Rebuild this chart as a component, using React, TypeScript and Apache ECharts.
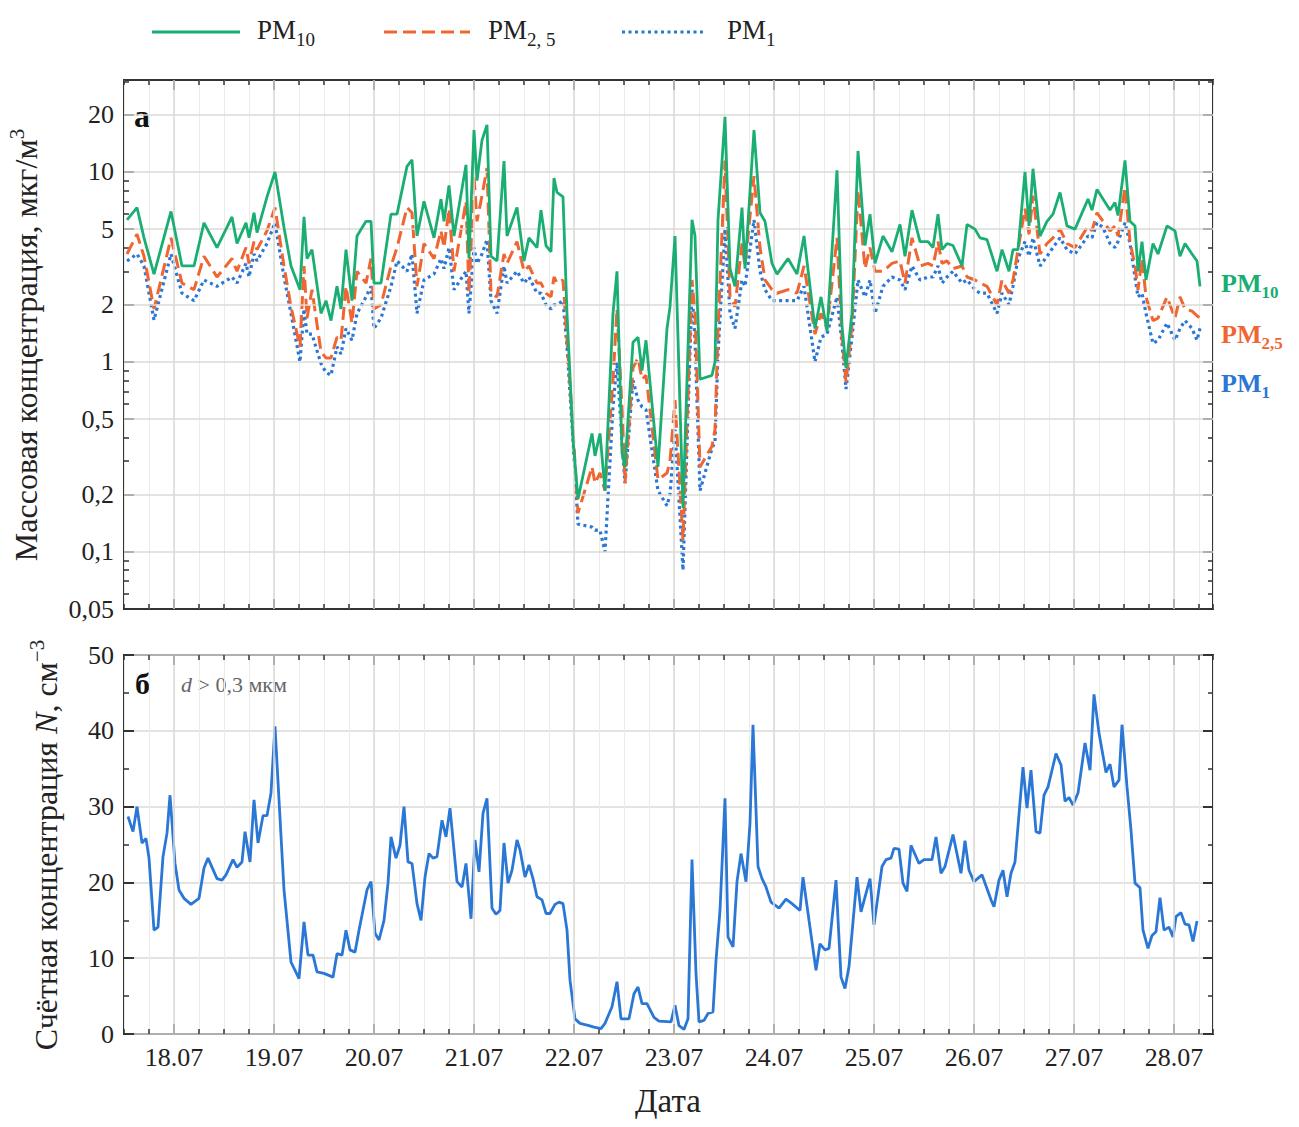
import React, { useEffect, useRef } from "react";
import * as echarts from "echarts";

const pmTimes = [
  17.53,17.63,17.70,17.80,17.97,18.08,18.20,18.30,18.43,18.58,18.63,18.72,18.75,18.80,18.83,18.93,19.01,19.10,19.17,19.26,
  19.30,19.33,19.38,19.47,19.52,19.57,19.63,19.67,19.72,19.78,19.83,19.92,19.97,20.00,20.07,20.17,20.23,20.33,20.38,20.43,
  20.50,20.60,20.67,20.70,20.75,20.80,20.92,20.95,21.00,21.03,21.08,21.13,21.17,21.23,21.30,21.33,21.43,21.50,21.55,21.63,
  21.67,21.72,21.77,21.80,21.83,21.89,
  21.93,21.99,22.04,22.18,22.21,22.26,22.31,22.39,22.43,22.48,22.51,22.59,22.64,22.68,22.72,22.84,22.93,22.96,23.01,23.09,
  23.18,23.21,23.26,23.38,23.41,23.44,23.51,23.56,23.61,23.68,23.71,23.80,23.86,23.91,23.98,24.03,24.14,24.23,24.30,24.41,
  24.47,24.53,24.63,24.68,24.72,24.78,24.84,24.91,
  24.96,25.01,25.09,25.18,25.26,25.31,25.38,25.46,25.54,25.59,25.64,25.68,25.73,25.79,25.88,25.93,26.01,26.06,26.13,26.23,
  26.28,26.35,26.39,26.44,26.51,26.55,26.59,26.66,26.73,26.79,26.86,26.93,27.01,27.14,27.18,27.23,27.29,27.36,27.41,27.44,
  27.51,27.56,27.61,27.64,27.68,27.72,27.79,27.84,27.93,28.01,28.06,28.11,28.18,28.23,28.26,
];

const pm10 = [
  5.6,6.5,4.5,2.9,6.2,3.2,3.2,5.4,4.0,5.8,4.2,5.4,4.5,6.1,4.8,7.4,10,5.1,3.2,2.4,
  5.8,3.5,3.9,1.8,2.1,1.65,2.5,1.9,3.9,2.1,4.6,5.5,5.5,2.6,2.6,6.0,6.0,10.7,11.6,4.6,
  7.0,4.5,7.2,5.5,8.5,4.6,10.9,3.5,16.6,9,14.7,17.7,3.6,3.4,11.4,4.6,6.5,3.4,4.5,4.0,
  6.3,4.1,3.8,9.3,7.8,7.4,
  1.8,0.39,0.19,0.42,0.32,0.42,0.21,1.8,3.0,0.33,0.28,1.27,1.35,0.9,1.3,0.28,1.5,1.95,4.6,0.17,
  5.6,4.6,0.81,0.85,1.0,5.6,19.5,3.1,2.5,6.5,3.1,16.6,6.1,5.5,3.3,2.9,3.5,2.9,4.6,1.5,
  2.2,1.45,10.2,1.55,0.93,1.8,12.9,4.1,
  6.0,3.3,4.6,3.8,5.3,3.6,6.3,4.3,4.3,4.0,6.0,3.9,4.2,4.1,3.2,5.3,5.0,4.5,4.4,3.0,
  3.9,3.0,3.9,3.9,10,5.2,10.4,4.6,5.5,6.0,7.8,5.2,5.0,7.2,6.3,8.1,7.2,6.3,6.9,5.9,
  11.5,5.5,5.2,3.0,4.3,2.7,4.2,3.7,5.2,4.9,3.6,4.2,3.7,3.4,2.5,
];

const pm25 = [
  3.7,4.7,3.6,1.9,4.5,2.6,2.4,3.6,2.8,3.5,3.0,4.0,3.3,4.3,3.9,4.9,6.5,3.2,1.95,1.2,
  3.2,1.7,2.4,1.13,1.05,1.05,1.35,1.3,2.5,1.6,3.0,2.6,3.5,1.9,2.0,3.2,4.0,6.5,6.1,2.5,
  4.2,3.5,4.9,4.0,6.4,3.0,7.0,2.3,9.5,5.5,7.5,10.5,2.3,2.2,3.7,3.3,4.3,3.0,3.2,2.6,
  2.6,2.3,2.2,2.8,2.6,2.7,
  1.3,0.44,0.16,0.28,0.23,0.26,0.21,0.81,1.9,0.57,0.23,0.93,1.05,0.81,0.85,0.24,0.26,0.3,0.63,0.115,
  2.7,1.8,0.28,0.36,0.44,1.45,11.5,2.2,1.95,4.2,3.2,9.5,4.0,2.7,2.4,2.3,2.4,2.3,3.2,1.4,
  1.8,1.5,4.5,1.35,0.78,1.55,8.0,3.1,
  4.0,3.0,3.0,3.3,3.4,2.6,4.5,3.2,3.3,3.2,4.3,3.3,3.4,3.1,3.2,2.8,2.7,2.6,2.5,2.0,
  2.7,2.3,2.7,3.9,6.4,4.7,7.5,3.7,4.2,4.5,5.0,4.2,4.0,5.2,4.9,6.1,5.5,4.9,5.2,4.6,
  8.3,4.3,3.2,2.4,3.5,2.2,1.65,1.7,2.2,1.7,2.2,1.9,1.85,1.75,1.7,
];

const pm1 = [
  3.4,3.7,3.2,1.66,3.7,2.3,2.1,2.7,2.5,2.8,2.6,3.3,2.8,3.7,3.4,4.2,5.4,2.8,1.8,1.0,
  1.9,1.4,1.4,0.98,0.88,0.85,1.2,1.1,1.5,1.3,1.8,2.2,2.5,1.5,1.7,2.5,3.4,3.0,3.7,1.8,
  2.7,2.9,3.5,3.1,4.0,2.4,3.0,1.8,4.0,3.3,3.7,4.4,2.1,1.8,3.2,2.6,3.0,2.6,2.8,2.3,
  2.3,2.0,1.9,2.0,2.0,2.1,
  1.2,0.39,0.14,0.135,0.13,0.13,0.1,0.58,1.0,0.38,0.23,0.8,0.63,0.58,0.56,0.21,0.175,0.2,0.44,0.08,
  2.4,1.3,0.21,0.35,0.38,1.1,5.0,1.8,1.5,2.7,2.5,5.6,3.0,2.4,2.1,2.1,2.1,2.1,2.5,1.0,
  1.35,1.4,2.2,1.25,0.72,1.35,2.7,2.2,
  2.7,1.8,2.5,2.8,2.7,2.4,3.2,2.7,2.8,2.8,3.2,2.6,2.8,3.0,2.6,2.7,2.4,2.3,2.3,1.8,
  2.3,2.0,2.5,3.5,4.3,3.6,4.5,3.2,3.6,4.0,4.5,3.9,3.7,4.6,4.5,5.4,5.1,4.2,4.0,4.3,
  5.4,4.2,2.8,2.2,2.3,1.8,1.25,1.3,1.6,1.3,1.5,1.65,1.5,1.3,1.5,
];

const nTimes = [
  17.54,17.59,17.63,17.68,17.72,17.75,17.80,17.84,17.89,17.93,17.96,18.01,18.05,18.10,18.17,18.25,18.30,18.34,18.43,18.48,
  18.52,18.59,18.63,18.68,18.71,18.76,18.80,18.84,18.89,18.93,18.97,19.01,19.05,19.10,19.17,19.25,19.30,19.34,19.39,19.43,
  19.50,19.59,19.63,19.68,19.72,19.76,19.81,19.85,19.93,19.97,20.01,20.05,20.10,20.14,20.17,20.22,20.26,20.30,20.34,20.38,
  20.43,20.47,20.51,20.55,20.59,20.63,20.68,20.72,20.76,20.83,20.88,20.92,20.97,21.01,21.05,21.09,21.13,21.18,21.22,21.26,
  21.30,21.34,21.38,21.43,21.46,21.51,21.55,21.59,21.63,21.68,21.72,21.76,21.81,21.85,21.89,21.93,21.96,22.01,22.06,22.15,
  22.20,22.27,22.31,22.38,22.43,22.47,22.55,22.60,22.64,22.68,22.73,22.80,22.85,22.97,
  23.01,23.05,23.10,23.14,23.18,23.22,23.25,23.30,23.34,23.39,23.42,23.46,23.51,23.54,23.59,23.63,23.67,23.72,23.76,23.79,
  23.84,23.88,23.92,23.97,24.05,24.12,24.18,24.26,24.29,24.35,24.42,24.46,24.51,24.55,24.62,24.67,24.71,24.75,24.83,24.87,
  24.96,25.00,25.08,25.12,25.17,25.20,25.25,25.29,25.33,25.37,25.45,25.50,25.58,25.62,25.67,25.71,25.79,25.87,25.91,25.95,
  26.00,26.08,26.17,26.20,26.25,26.29,26.33,26.37,26.41,26.49,26.53,26.57,26.62,26.66,26.70,26.74,26.78,26.82,26.87,26.91,
  26.95,26.99,27.04,27.07,27.11,27.16,27.20,27.25,27.32,27.36,27.40,27.45,27.48,27.53,27.57,27.61,27.66,27.69,27.74,27.78,
  27.82,27.86,27.90,27.95,27.99,28.02,28.07,28.11,28.15,28.19,28.23,
];

const nValues = [
  28.7,26.7,30,25.2,25.8,23.2,13.7,14.1,23.4,26.5,31.5,22.5,19,17.9,17.1,17.9,21.9,23.2,20.5,20.3,
  21,23,22,22.7,26.7,22.7,30.9,25.2,28.8,28.8,31.8,40.6,30.9,19,9.5,7.3,14.8,10.4,10.4,8.2,
  8,7.5,10.6,10.4,13.7,11.1,10.8,13.7,19,20.1,13.3,12.4,15,19.9,26,23.2,24.9,30,22.7,22.5,
  17.2,15,20.7,23.8,23.2,23.4,28.2,26,29.8,20.1,19.4,22.5,15.2,25.6,21.4,29.1,31.1,16.6,15.8,16.3,
  25.2,19.9,21.6,25.6,24.3,20.7,22.3,20.5,18.1,17.7,15.9,15.9,17.1,17.4,17.2,13.7,7.1,2,1.4,1.1,
  0.9,0.7,1.4,3.6,6.9,2,2,5.3,6.2,4,4,2.2,1.7,1.6,
  3.8,1.1,0.6,2,23,8,1.6,1.8,2.7,2.9,9.7,16.3,31.1,12.8,11.5,20.1,23.8,20.1,27.8,40.8,
  22.1,20.5,19.4,17.4,16.6,17.8,17.2,16.3,20.7,15,8.4,11.9,11.1,11.3,20.3,7.5,6,8.9,20.7,16.1,
  20.5,14.4,22.1,23,23.2,24.5,24.4,19.9,18.8,24.9,22.5,23,23,26,21.2,22.1,26.3,21.2,25.5,21.6,
  20.1,21,17.7,16.8,20.3,21.6,18.1,21.2,22.7,35.2,29.8,34.8,26.7,26.5,31.5,32.6,34.8,37,35.5,30.7,
  31.2,30.2,31.8,34.6,38.4,34.8,44.8,39.7,34.5,35.6,32.6,33.5,40.8,32.6,26.9,19.9,19.3,13.7,11.3,13,
  13.5,18,13.7,14.1,12.8,15.5,16,14.5,14.4,12.2,14.9,
];

const dayTicks = [18, 19, 20, 21, 22, 23, 24, 25, 26, 27, 28];
const massMajor = [0.05, 0.1, 0.2, 0.5, 1, 2, 5, 10, 20];
const massMinor = [0.06, 0.07, 0.08, 0.09, 0.3, 0.4, 0.6, 0.7, 0.8, 0.9, 3, 4, 6, 7, 8, 9, 30];

const GREEN = "#1aae73";
const ORANGE = "#ef6632";
const BLUE = "#2a77d6";
const FONT = "Liberation Serif";
const L = Math.log10;

function fmtMass(v: number) {
  const x = Number(Math.pow(10, v).toPrecision(2));
  return String(x).replace(".", ",");
}

export default function App() {
  const ref = useRef<HTMLDivElement>(null);
  useEffect(() => {
    if (!ref.current) return;
    const chart = echarts.init(ref.current, null, { renderer: "svg" });
    const XMIN = 17.5, XMAX = 28.39;
    const grids = [
      { left: 124, top: 80, width: 1089, height: 529 },
      { left: 124, top: 655, width: 1089, height: 379 },
    ];
    const gridStyle = { show: true, borderColor: "#333", borderWidth: 2, backgroundColor: "transparent" };
    const noLine = { show: false, onZero: false };
    const xAxes: any[] = [];
    grids.forEach((_, gi) => {
      ["bottom", "top"].forEach((pos) => {
        xAxes.push({
          type: "value", gridIndex: gi, position: pos, min: XMIN, max: XMAX, interval: 0.25,
          axisLine: noLine,
          axisTick: { show: true, inside: true, length: 5, lineStyle: { color: "#333", width: 1.5 } },
          axisLabel: { show: false },
          splitLine: { show: pos === "bottom", lineStyle: { color: "#ecebe6", width: 1 } },
        });
        xAxes.push({
          type: "value", gridIndex: gi, position: pos, min: XMIN, max: XMAX,
          axisLine: noLine,
          axisTick: { show: true, inside: true, length: 10, customValues: dayTicks, lineStyle: { color: "#333", width: 2 } },
          axisLabel: {
            show: gi === 1 && pos === "bottom", customValues: dayTicks, margin: 10,
            formatter: (v: number) => String(Math.round(v)) + ".07",
            fontFamily: FONT, fontSize: 26, color: "#222",
          },
          splitLine: { show: false },
        });
      });
    });
    const yMin = L(0.05), yMax = L(30.5);
    const yAxes: any[] = [];
    ["left", "right"].forEach((pos) => {
      yAxes.push({
        type: "value", gridIndex: 0, position: pos, min: yMin, max: yMax,
        axisLine: noLine,
        axisTick: { show: true, inside: true, length: 10, customValues: massMajor.map(L), lineStyle: { color: "#333", width: 2 } },
        axisLabel: { show: pos === "left", customValues: massMajor.map(L), formatter: fmtMass, fontFamily: FONT, fontSize: 26, color: "#222", margin: 10 },
        splitLine: { show: false },
      });
      yAxes.push({
        type: "value", gridIndex: 0, position: pos, min: yMin, max: yMax,
        axisLine: noLine,
        axisTick: { show: true, inside: true, length: 5, customValues: massMinor.map(L), lineStyle: { color: "#333", width: 1.5 } },
        axisLabel: { show: false },
        splitLine: { show: false },
      });
    });
    ["left", "right"].forEach((pos) => {
      yAxes.push({
        type: "value", gridIndex: 1, position: pos, min: 0, max: 50, interval: 10,
        axisLine: noLine,
        axisTick: { show: true, inside: true, length: 10, lineStyle: { color: "#333", width: 2 } },
        minorTick: { show: true, splitNumber: 2, length: 5, lineStyle: { color: "#333", width: 1.5 } },
        axisLabel: { show: pos === "left", fontFamily: FONT, fontSize: 26, color: "#222", margin: 10 },
        splitLine: { show: pos === "left", lineStyle: { color: "#dcdad5", width: 1.5 } },
      });
    });
    const gridLineStyle = { color: "#dcdad5", width: 1.5, type: "solid" };
    const mk = (data: any[]) => ({
      silent: true, symbol: ["none", "none"], label: { show: false },
      lineStyle: gridLineStyle, data, animation: false,
    });
    const series: any[] = [
      {
        type: "line", xAxisIndex: 0, yAxisIndex: 0, data: [[XMIN, null]], z: 1, symbol: "none",
        markLine: mk([...dayTicks.map((d) => ({ xAxis: d })), ...massMajor.slice(1).map((v) => ({ yAxis: L(v) }))]),
      },
      {
        type: "line", xAxisIndex: 4, yAxisIndex: 4, data: [[XMIN, null]], z: 1, symbol: "none",
        markLine: mk(dayTicks.map((d) => ({ xAxis: d }))),
      },
      {
        name: "PM1", type: "line", xAxisIndex: 0, yAxisIndex: 0, z: 3, symbol: "none",
        data: pmTimes.map((t, i) => [t, L(pm1[i])]),
        lineStyle: { color: BLUE, width: 3.2, type: [3, 3.5] },
      },
      {
        name: "PM2,5", type: "line", xAxisIndex: 0, yAxisIndex: 0, z: 4, symbol: "none",
        data: pmTimes.map((t, i) => [t, L(pm25[i])]),
        lineStyle: { color: ORANGE, width: 3, type: [13, 6] },
      },
      {
        name: "PM10", type: "line", xAxisIndex: 0, yAxisIndex: 0, z: 5, symbol: "none",
        data: pmTimes.map((t, i) => [t, L(pm10[i])]),
        lineStyle: { color: GREEN, width: 2.8 },
      },
      {
        name: "N", type: "line", xAxisIndex: 4, yAxisIndex: 4, z: 3, symbol: "none",
        data: nTimes.map((t, i) => [t, nValues[i]]),
        lineStyle: { color: BLUE, width: 2.8 },
      },
    ];
    const tok = (size: number, color: string, weight: string, padBottom: number, extra: any = {}) => ({
      fontSize: size, fontFamily: FONT, color, fill: color, fontWeight: weight,
      verticalAlign: "bottom", padding: [0, 0, padBottom, 0], ...extra,
    });
    const legendText = (x: number, subTxt: string) => ({
      type: "text", left: x, top: 16,
      style: { text: "{m|PM}{s|" + subTxt + "}", rich: { m: tok(27, "#222", "normal", 6), s: tok(19, "#222", "normal", 0) } },
    });
    const sideLabel = (y: number, subTxt: string, color: string) => ({
      type: "text", left: 1221, top: y,
      style: { text: "{m|PM}{s|" + subTxt + "}", rich: { m: tok(26, color, "bold", 5), s: tok(17, color, "bold", 0) } },
    });
    const graphic: any[] = [
      { type: "line", shape: { x1: 152, y1: 32, x2: 240, y2: 32 }, style: { stroke: GREEN, lineWidth: 3 } },
      { type: "line", shape: { x1: 384, y1: 32, x2: 470, y2: 32 }, style: { stroke: ORANGE, lineWidth: 3, lineDash: [13, 6] } },
      { type: "line", shape: { x1: 622, y1: 32, x2: 705, y2: 32 }, style: { stroke: BLUE, lineWidth: 3.2, lineDash: [3, 3.5] } },
      legendText(257, "10"),
      legendText(488, "2, 5"),
      legendText(727, "1"),
      sideLabel(270, "10", GREEN),
      sideLabel(321, "2,5", ORANGE),
      sideLabel(370, "1", BLUE),
      { type: "text", left: 134, top: 100, style: { text: "а", font: `bold 32px "${FONT}"`, fill: "#111" } },
      { type: "text", left: 135, top: 668, style: { text: "б", font: `bold 30px "${FONT}"`, fill: "#111" } },
      {
        type: "text", left: 181, top: 673,
        style: {
          text: "{i|d}{n| > 0,3 мкм}",
          rich: {
            i: { fontStyle: "italic", fontSize: 22, fontFamily: FONT, fill: "#666", color: "#666" },
            n: { fontSize: 22, fontFamily: FONT, fill: "#666", color: "#666" },
          },
        },
      },
      {
        type: "text", x: 668, y: 1101,
        style: { text: "Дата", font: `33px "${FONT}"`, fill: "#222", align: "center", verticalAlign: "middle" },
      },
      {
        type: "text", x: 24, y: 345, rotation: Math.PI / 2,
        style: {
          text: "{m|Массовая концентрация, мкг/м}{p|3}", align: "center", verticalAlign: "middle",
          rich: { m: tok(32, "#222", "normal", 0), p: tok(21, "#222", "normal", 14) },
        },
      },
      {
        type: "text", x: 44, y: 845, rotation: Math.PI / 2,
        style: {
          text: "{m|Счётная концентрация }{i|N}{m|, см}{p|−3}", align: "center", verticalAlign: "middle",
          rich: {
            m: tok(32, "#222", "normal", 0),
            i: tok(32, "#222", "normal", 0, { fontStyle: "italic" }),
            p: tok(21, "#222", "normal", 14),
          },
        },
      },
    ];
    chart.setOption({
      animation: false,
      backgroundColor: "#fff",
      grid: grids.map((g) => ({ ...g, ...gridStyle })),
      xAxis: xAxes,
      yAxis: yAxes,
      series,
      graphic,
    });
    return () => chart.dispose();
  }, []);
  return <div ref={ref} style={{ width: 1299, height: 1127, marginLeft: -8, marginTop: -8 }} />;
}
